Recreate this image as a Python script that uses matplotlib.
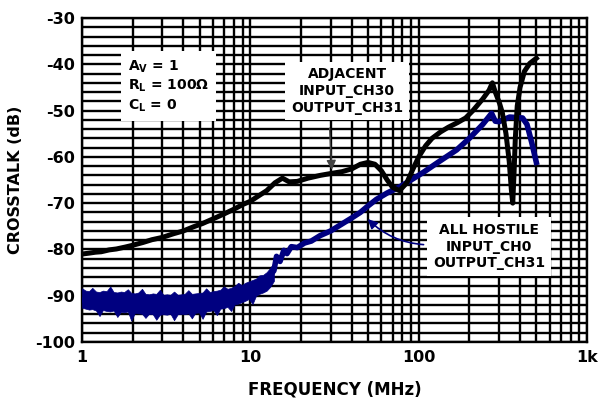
import matplotlib
matplotlib.use("Agg")
import matplotlib.pyplot as plt
from matplotlib.ticker import FixedLocator, NullFormatter, FixedFormatter

plt.rcParams['font.family'] = ['DejaVu Sans']
plt.rcParams['font.weight'] = 'bold'
plt.rcParams['axes.unicode_minus'] = False
plt.rcParams['mathtext.fontset'] = 'dejavusans'
plt.rcParams['mathtext.default'] = 'bf'

# Adjacent channel crosstalk (black)
adj_freq = [1.0, 1.1, 1.2, 1.3, 1.45, 1.6, 1.8, 2.0, 2.3, 2.6, 3.0, 3.5, 4.0, 4.6,
            5.2, 6.0, 7.0, 8.0, 9.0, 10, 11, 12.5, 14, 15.5, 17, 19, 22, 26, 30,
            35, 40, 45, 50, 55, 60, 65, 70, 77, 85, 92, 100, 110, 120, 135, 150,
            170, 190, 210, 240, 262, 274, 285, 302, 314, 330, 345, 355, 362, 368,
            375, 385, 400, 425, 457, 500]
adj_db = [-81.0, -80.8, -80.6, -80.5, -80.1, -79.9, -79.5, -79.1, -78.5, -77.9,
          -77.4, -76.6, -76.0, -75.1, -74.4, -73.4, -72.3, -71.3, -70.3, -69.6,
          -68.6, -67.3, -65.6, -64.6, -65.4, -65.3, -64.6, -64.0, -63.6, -63.2,
          -62.6, -61.6, -61.2, -61.6, -63.0, -65.0, -66.6, -67.3, -65.6, -62.8,
          -60.0, -57.6, -56.0, -54.6, -53.6, -52.6, -51.6, -50.0, -47.5, -45.6,
          -44.0, -46.0, -48.4, -50.5, -55.0, -61.0, -67.0, -70.0, -64.0, -56.0,
          -49.0, -45.0, -41.5, -39.8, -38.7]

# All hostile crosstalk (blue) - trace centre
host_freq = [1.00, 1.21, 1.47, 1.78, 2.16, 2.63, 3.19, 3.88, 4.71, 5.73, 6.96, 8.46,
             10.3, 12.5, 13.8, 14.3, 15.0, 15.8, 16.5, 17.5, 19, 21, 23, 26, 30, 35,
             40, 45, 50, 56, 65, 77, 90, 105, 130, 168, 200, 240, 271, 285, 300, 347,
             414, 440, 470, 500]
host_db = [-90.9, -91.1, -91.4, -91.7, -92.0, -92.2, -92.3, -92.2, -91.9, -91.1,
           -90.3, -89.3, -88.1, -86.4, -84.6, -81.5, -82.6, -80.2, -80.9, -79.4,
           -79.6, -78.6, -78.2, -77.0, -76.0, -74.5, -73.2, -72.0, -70.6, -69.2,
           -67.8, -66.5, -65.0, -63.5, -61.2, -58.5, -56.0, -53.0, -50.6, -52.3,
           -52.4, -51.4, -51.6, -53.0, -57.0, -61.2]

# All hostile crosstalk - noise band envelope at low frequency
noise_freq = [1.00, 1.05, 1.10, 1.15, 1.21, 1.27, 1.33, 1.40, 1.47, 1.54, 1.62, 1.70,
              1.78, 1.87, 1.96, 2.06, 2.16, 2.27, 2.38, 2.50, 2.63, 2.76, 2.90, 3.04,
              3.19, 3.35, 3.52, 3.70, 3.88, 4.07, 4.28, 4.49, 4.71, 4.95, 5.20, 5.46,
              5.73, 6.02, 6.32, 6.63, 6.96, 7.31, 7.68, 8.06, 8.46, 8.89, 9.33, 9.80,
              10.3, 10.8, 11.3, 11.9, 12.5, 13.1, 13.8]
noise_high = [-88.4, -88.9, -89.0, -88.3, -89.1, -89.2, -88.9, -89.0, -88.0, -89.2,
              -89.3, -89.1, -89.2, -88.6, -89.4, -89.5, -89.3, -88.5, -89.6, -89.7,
              -89.5, -89.6, -88.7, -89.8, -89.7, -89.8, -89.1, -89.8, -89.7, -89.6,
              -88.8, -89.6, -89.5, -89.4, -89.3, -88.4, -89.2, -89.0, -88.9, -88.7,
              -88.0, -88.5, -88.3, -87.9, -87.2, -87.7, -87.2, -86.9, -86.6, -86.3,
              -85.6, -85.5, -84.9, -84.0, -82.8]
noise_low = [-92.6, -92.8, -93.0, -92.9, -93.2, -94.4, -93.1, -93.3, -93.4, -93.2,
             -94.6, -93.5, -93.6, -93.4, -95.4, -93.7, -93.8, -93.9, -94.8, -93.9,
             -94.0, -95.2, -94.1, -94.0, -94.1, -93.9, -95.3, -94.0, -93.9, -94.0,
             -93.8, -94.9, -93.7, -93.6, -95.0, -93.4, -93.3, -93.1, -94.2, -92.8,
             -92.7, -92.4, -93.3, -91.9, -91.7, -91.4, -91.1, -90.7, -91.8, -90.0,
             -89.6, -89.3, -88.9, -88.1, -86.8]

x_ticks = [1, 10, 100, 1000]
x_tick_labels = ['1', '10', '100', '1k']
y_ticks = [-100, -90, -80, -70, -60, -50, -40, -30]

navy = '#000080'

fig = plt.figure(figsize=(5.99, 4.0), dpi=100)
ax = fig.add_axes([0.137, 0.145, 0.843, 0.81])

ax.set_xscale('log')
ax.set_xlim(1, 1000)
ax.set_ylim(-100, -30)

ax.xaxis.set_major_locator(FixedLocator(x_ticks))
ax.xaxis.set_major_formatter(FixedFormatter(x_tick_labels))
minors = [m * d for d in (1, 10, 100) for m in range(2, 10)]
ax.xaxis.set_minor_locator(FixedLocator(minors))
ax.xaxis.set_minor_formatter(NullFormatter())
ax.yaxis.set_major_locator(FixedLocator(y_ticks))
ax.yaxis.set_minor_locator(FixedLocator(list(range(-98, -30, 2))))

ax.grid(True, which='both', color='black', linewidth=1.7)
ax.tick_params(which='both', length=0, labelsize=11.5)
ax.tick_params(axis='x', pad=6)
ax.tick_params(axis='y', pad=5)
for lab in ax.get_xticklabels() + ax.get_yticklabels():
    lab.set_fontweight('bold')
for s in ax.spines.values():
    s.set_linewidth(1.7)
ax.set_axisbelow(True)

ax.fill_between(noise_freq, noise_low, noise_high, facecolor=navy, edgecolor=navy,
                linewidth=0.5, zorder=3)
ax.plot(host_freq, host_db, color=navy, linewidth=4.0, zorder=3)
ax.plot(adj_freq, adj_db, color='black', linewidth=3.6, zorder=4)

ax.set_xlabel('FREQUENCY (MHz)', fontsize=12, fontweight='bold', labelpad=11)
ax.set_ylabel('CROSSTALK (dB)', fontsize=11.5, fontweight='bold', labelpad=9)

ax.text(1.87, -44.7, 'A$_V$ = 1\nR$_L$ = 100\u03a9\nC$_L$ = 0',
        fontsize=10, fontweight='bold', ha='left', va='center', linespacing=1.25,
        bbox=dict(facecolor='white', edgecolor='none', pad=5), zorder=6)
ax.text(37.5, -45.8, 'ADJACENT\nINPUT_CH30\nOUTPUT_CH31', fontsize=10, fontweight='bold',
        ha='center', va='center', linespacing=1.25,
        bbox=dict(facecolor='white', edgecolor='none', pad=4), zorder=6)
ax.text(262, -79.4, 'ALL HOSTILE\nINPUT_CH0\nOUTPUT_CH31', fontsize=10, fontweight='bold',
        ha='center', va='center', linespacing=1.25,
        bbox=dict(facecolor='white', edgecolor='none', pad=4), zorder=6)

ax.annotate('', xy=(30.5, -63.4), xytext=(29.5, -53.2),
            arrowprops=dict(arrowstyle='-|>', color='#444444', lw=1.0,
                            mutation_scale=14, facecolor='white'), zorder=7)
ax.annotate('', xy=(48.5, -73.0), xytext=(111, -79.0),
            arrowprops=dict(arrowstyle='-|>', color=navy, lw=1.2,
                            mutation_scale=14, connectionstyle='arc3,rad=-0.2'), zorder=7)

fig.savefig('out.png', dpi=100)
